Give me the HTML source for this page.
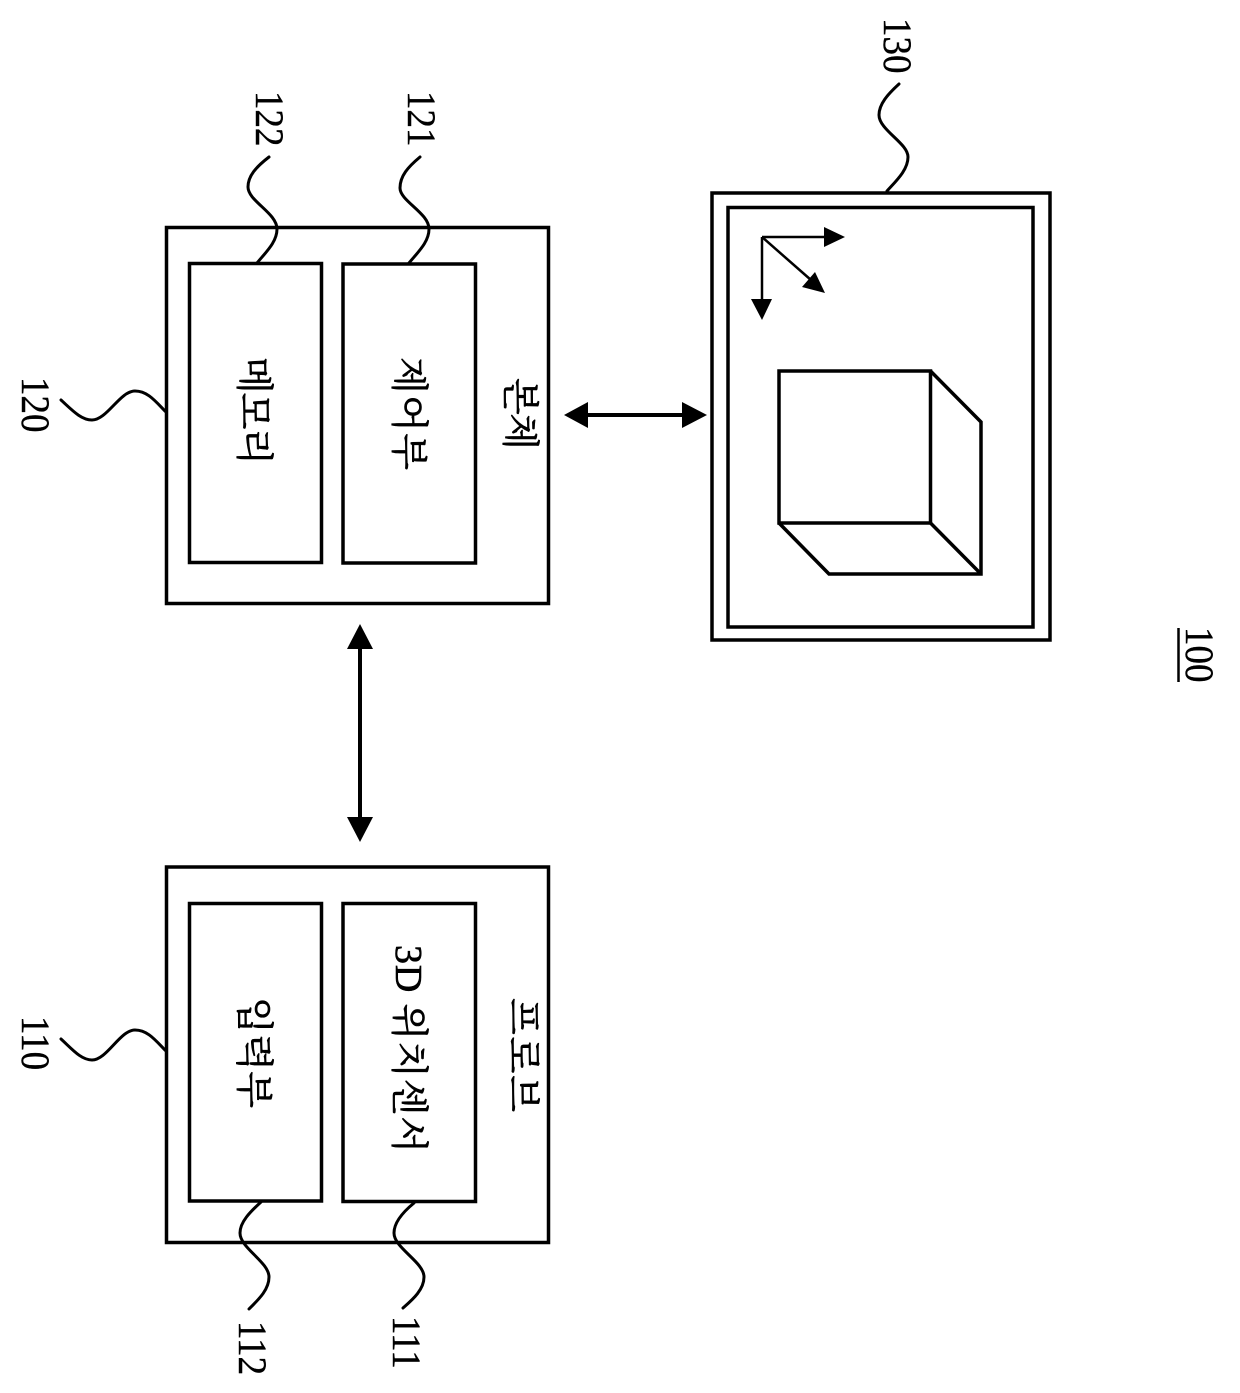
<!DOCTYPE html>
<html lang="ko">
<head>
<meta charset="utf-8">
<title>Diagram</title>
<style>
html,body{margin:0;padding:0;background:#fff}
svg{display:block}
.n{font-family:"Liberation Serif",serif;font-size:37px;fill:#000;stroke:#000;stroke-width:.4}
.k{font-family:"Liberation Serif","Noto Serif CJK SC","Noto Serif CJK KR",serif;font-size:38px;fill:#000;stroke:#000;stroke-width:.6}
.b{fill:#fff;stroke:#000;stroke-width:3.500}
.l{fill:none;stroke:#000;stroke-width:3;stroke-linecap:round}
</style>
</head>
<body>
<svg width="1240" height="1393" viewBox="0 0 1240 1393" xmlns="http://www.w3.org/2000/svg">
<rect width="1240" height="1393" fill="#fff"/>

<!-- main boxes -->
<rect class="b" x="166.500" y="227.500" width="382" height="376"/>
<rect class="b" x="189.500" y="263.500" width="132" height="299"/>
<rect class="b" x="343" y="264" width="132.500" height="299"/>

<rect class="b" x="166.500" y="867" width="382" height="375.500"/>
<rect class="b" x="189.500" y="903.500" width="132" height="297.500"/>
<rect class="b" x="343" y="903.500" width="132.500" height="298"/>

<rect class="b" x="712" y="193" width="338" height="447"/>
<rect class="b" x="728" y="207.500" width="305" height="419.500"/>

<!-- cube -->
<g fill="none" stroke="#000" stroke-width="3.500" stroke-linejoin="miter">
<rect x="779" y="371" width="151.500" height="152"/>
<path d="M930.500 371 L981 422 L981 574 L829 574 L779 523"/>
<path d="M930.500 523 L981 574"/>
</g>

<!-- axes -->
<g stroke="#000" stroke-width="2.500" fill="none">
<path d="M762 237 L826 237"/>
<path d="M762 237 L762 301"/>
<path d="M762 237 L811 280"/>
</g>
<polygon points="824,227 845,237 824,247" fill="#000"/>
<polygon points="751,299 772,299 762,320" fill="#000"/>
<polygon points="815,272 802,287 825,293" fill="#000"/>

<!-- double arrows -->
<path d="M360 645 L360 820" stroke="#000" stroke-width="4" fill="none"/>
<polygon points="360,624 373,649 347,649" fill="#000"/>
<polygon points="347,817 373,817 360,842" fill="#000"/>
<path d="M585 415 L685 415" stroke="#000" stroke-width="4" fill="none"/>
<polygon points="564,415 588,402 588,428" fill="#000"/>
<polygon points="682,402 707,415 682,428" fill="#000"/>

<!-- leaders -->
<path class="l" d="M269 157 C256 167 248 176 248 187 C248 201 277 213 277 229 C277 242 266 252 257 263"/>
<path class="l" d="M420 157 C408 167 400 176 400 188 C400 201 429 213 429 229 C429 242 418 252 409 263"/>
<path class="l" d="M261 1202 C250 1212 240 1222 240 1233 C240 1248 269 1262 269 1277 C269 1290 258 1300 249 1309"/>
<path class="l" d="M414 1203 C403 1212 394 1222 394 1233 C394 1248 424 1262 424 1277 C424 1290 412 1300 403 1308"/>
<path class="l" d="M61 400 C72 410 81 420 92 420 C107 420 120 391 135 391 C148 391 156 402 166 412"/>
<path class="l" d="M61 1039 C72 1049 81 1060 92 1060 C107 1060 120 1030 135 1030 C148 1030 156 1041 166 1051"/>
<path class="l" d="M899 84 C888 94 879 104 879 115 C879 130 908 143 908 157 C908 170 896 181 887 191"/>

<!-- reference numbers -->
<text class="n" transform="translate(256,91) rotate(90) scale(1,1.100)">122</text>
<text class="n" transform="translate(408,91) rotate(90) scale(1,1.100)">121</text>
<text class="n" transform="translate(239,1321) rotate(90) scale(1,1.100)">112</text>
<text class="n" transform="translate(393,1316) rotate(90) scale(1,1.100)">111</text>
<text class="n" transform="translate(22,377) rotate(90) scale(1,1.100)">120</text>
<text class="n" transform="translate(22,1016) rotate(90) scale(1,1.100)">110</text>
<text class="n" transform="translate(884,18) rotate(90) scale(1,1.100)">130</text>
<text class="n" transform="translate(1186,627) rotate(90) scale(1,1.100)">100</text>
<path d="M1178.500 628 L1178.500 682" stroke="#000" stroke-width="2.500" fill="none"/>

<!-- Korean labels -->
<text class="k" transform="translate(241,357) rotate(90)" textLength="108" lengthAdjust="spacing">메모리</text>
<text class="k" transform="translate(396,357) rotate(90)" textLength="113" lengthAdjust="spacing">제어부</text>
<text class="k" transform="translate(507,378) rotate(90)" textLength="72" lengthAdjust="spacing">본체</text>
<text class="k" transform="translate(241,997) rotate(90)" textLength="111" lengthAdjust="spacing">입력부</text>
<text class="k" transform="translate(396,945) rotate(90)" textLength="208" lengthAdjust="spacing">3D 위치센서</text>
<text class="k" transform="translate(510,998) rotate(90)" textLength="114" lengthAdjust="spacing">프로브</text>
</svg>
</body>
</html>
